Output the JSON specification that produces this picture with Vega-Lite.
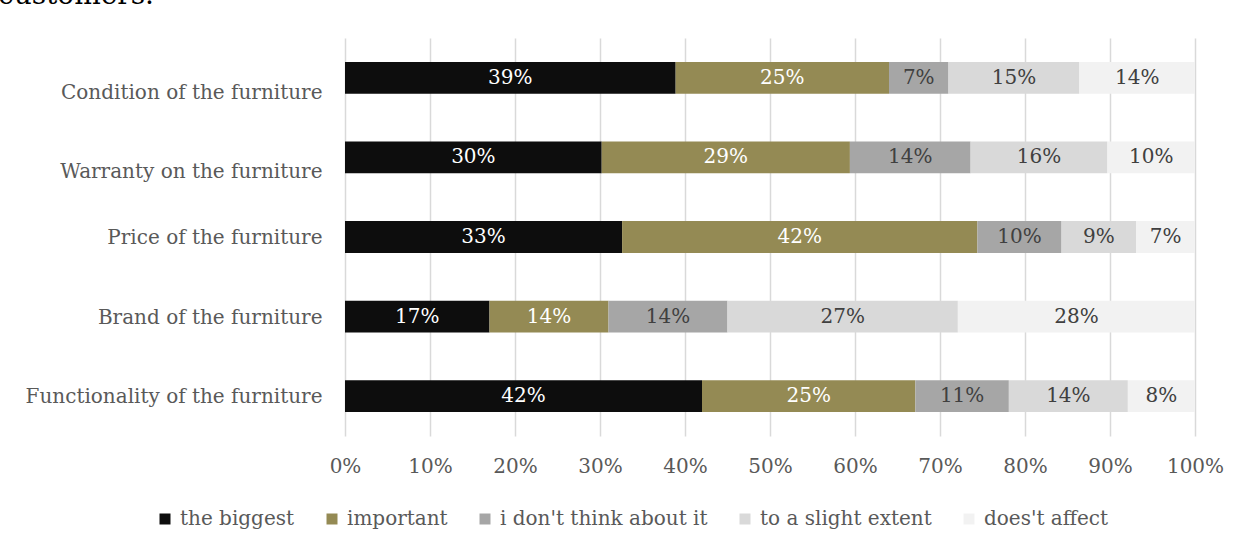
{
  "$schema": "https://vega.github.io/schema/vega-lite/v6.json",
  "width": 850,
  "height": 398,
  "autosize": {"type": "none"},
  "padding": {"left": 345, "top": 38, "right": 55, "bottom": 117},
  "background": "white",
  "title": {
    "text": "customers.",
    "anchor": "start",
    "frame": "group",
    "orient": "top",
    "dx": -347,
    "offset": 6,
    "baseline": "alphabetic",
    "font": "DejaVu Serif",
    "fontSize": 28,
    "fontWeight": "normal",
    "color": "#000000"
  },
  "config": {
    "view": {"stroke": null},
    "font": "DejaVu Serif"
  },
  "data": {
    "values": [
      {"item": "Condition of the furniture", "answer": "the biggest", "k": 1, "value": 0.389, "label": "39%"},
      {"item": "Condition of the furniture", "answer": "important", "k": 2, "value": 0.251, "label": "25%"},
      {"item": "Condition of the furniture", "answer": "i don't think about it", "k": 3, "value": 0.070, "label": "7%"},
      {"item": "Condition of the furniture", "answer": "to a slight extent", "k": 4, "value": 0.154, "label": "15%"},
      {"item": "Condition of the furniture", "answer": "does't affect", "k": 5, "value": 0.136, "label": "14%"},
      {"item": "Warranty on the furniture", "answer": "the biggest", "k": 1, "value": 0.302, "label": "30%"},
      {"item": "Warranty on the furniture", "answer": "important", "k": 2, "value": 0.292, "label": "29%"},
      {"item": "Warranty on the furniture", "answer": "i don't think about it", "k": 3, "value": 0.142, "label": "14%"},
      {"item": "Warranty on the furniture", "answer": "to a slight extent", "k": 4, "value": 0.161, "label": "16%"},
      {"item": "Warranty on the furniture", "answer": "does't affect", "k": 5, "value": 0.103, "label": "10%"},
      {"item": "Price of the furniture", "answer": "the biggest", "k": 1, "value": 0.326, "label": "33%"},
      {"item": "Price of the furniture", "answer": "important", "k": 2, "value": 0.418, "label": "42%"},
      {"item": "Price of the furniture", "answer": "i don't think about it", "k": 3, "value": 0.099, "label": "10%"},
      {"item": "Price of the furniture", "answer": "to a slight extent", "k": 4, "value": 0.088, "label": "9%"},
      {"item": "Price of the furniture", "answer": "does't affect", "k": 5, "value": 0.069, "label": "7%"},
      {"item": "Brand of the furniture", "answer": "the biggest", "k": 1, "value": 0.170, "label": "17%"},
      {"item": "Brand of the furniture", "answer": "important", "k": 2, "value": 0.140, "label": "14%"},
      {"item": "Brand of the furniture", "answer": "i don't think about it", "k": 3, "value": 0.140, "label": "14%"},
      {"item": "Brand of the furniture", "answer": "to a slight extent", "k": 4, "value": 0.271, "label": "27%"},
      {"item": "Brand of the furniture", "answer": "does't affect", "k": 5, "value": 0.279, "label": "28%"},
      {"item": "Functionality of the furniture", "answer": "the biggest", "k": 1, "value": 0.420, "label": "42%"},
      {"item": "Functionality of the furniture", "answer": "important", "k": 2, "value": 0.251, "label": "25%"},
      {"item": "Functionality of the furniture", "answer": "i don't think about it", "k": 3, "value": 0.110, "label": "11%"},
      {"item": "Functionality of the furniture", "answer": "to a slight extent", "k": 4, "value": 0.140, "label": "14%"},
      {"item": "Functionality of the furniture", "answer": "does't affect", "k": 5, "value": 0.079, "label": "8%"}
    ]
  },
  "transform": [
    {"stack": "value", "groupby": ["item"], "sort": [{"field": "k", "order": "ascending"}], "as": ["x0", "x1"]},
    {"calculate": "(datum.x0 + datum.x1) / 2", "as": "mid"}
  ],
  "encoding": {
    "y": {
      "field": "item",
      "type": "nominal",
      "sort": ["Condition of the furniture", "Warranty on the furniture", "Price of the furniture", "Brand of the furniture", "Functionality of the furniture"],
      "scale": {"paddingInner": 0.6, "paddingOuter": 0.3},
      "axis": {
        "title": null,
        "domain": false,
        "ticks": false,
        "labelPadding": 23,
        "labelFontSize": 20,
        "labelColor": "#595959",
        "labelFont": "DejaVu Serif",
        "labelLimit": 400,
        "labelOffset": {"condition": {"test": "datum.value === 'Condition of the furniture' || datum.value === 'Warranty on the furniture'", "value": 15}, "value": 1}
      }
    }
  },
  "layer": [
    {
      "mark": {"type": "bar"},
      "encoding": {
        "x": {
          "field": "x0",
          "type": "quantitative",
          "scale": {"domain": [0, 1], "nice": false},
          "axis": {
            "title": null,
            "format": ".0%",
            "values": [0, 0.1, 0.2, 0.3, 0.4, 0.5, 0.6, 0.7, 0.8, 0.9, 1],
            "labelOverlap": false,
            "labelFlush": false,
            "domain": false,
            "ticks": false,
            "grid": true,
            "gridColor": "#d9d9d9",
            "gridWidth": 1.5,
            "labelPadding": 20,
            "labelFontSize": 20,
            "labelColor": "#595959",
            "labelFont": "DejaVu Serif"
          }
        },
        "x2": {"field": "x1"},
        "color": {
          "field": "answer",
          "type": "nominal",
          "sort": ["the biggest", "important", "i don't think about it", "to a slight extent", "does't affect"],
          "scale": {
            "domain": ["the biggest", "important", "i don't think about it", "to a slight extent", "does't affect"],
            "range": ["#0d0d0d", "#948a54", "#a6a6a6", "#d9d9d9", "#f2f2f2"]
          },
          "legend": {
            "title": null,
            "orient": "none",
            "direction": "horizontal",
            "legendX": -190,
            "legendY": 471,
            "symbolType": "square",
            "symbolSize": 121,
            "symbolStrokeWidth": 0,
            "symbolOpacity": 1,
            "labelFontSize": 20,
            "labelColor": "#595959",
            "labelFont": "DejaVu Serif",
            "labelOffset": 5,
            "columnPadding": 27,
            "labelLimit": 400
          }
        }
      }
    },
    {
      "mark": {"type": "text", "fontSize": 20, "font": "DejaVu Serif", "baseline": "middle", "align": "center"},
      "encoding": {
        "x": {
          "field": "mid",
          "type": "quantitative",
          "axis": {
            "title": null,
            "format": ".0%",
            "values": [0, 0.1, 0.2, 0.3, 0.4, 0.5, 0.6, 0.7, 0.8, 0.9, 1],
            "labelOverlap": false,
            "labelFlush": false,
            "domain": false,
            "ticks": false,
            "grid": true,
            "gridColor": "#d9d9d9",
            "gridWidth": 1.5,
            "labelPadding": 20,
            "labelFontSize": 20,
            "labelColor": "#595959",
            "labelFont": "DejaVu Serif"
          }
        },
        "text": {"field": "label", "type": "nominal"},
        "color": {
          "condition": {"test": "datum.k <= 2", "value": "#ffffff"},
          "value": "#404040"
        }
      }
    }
  ]
}
